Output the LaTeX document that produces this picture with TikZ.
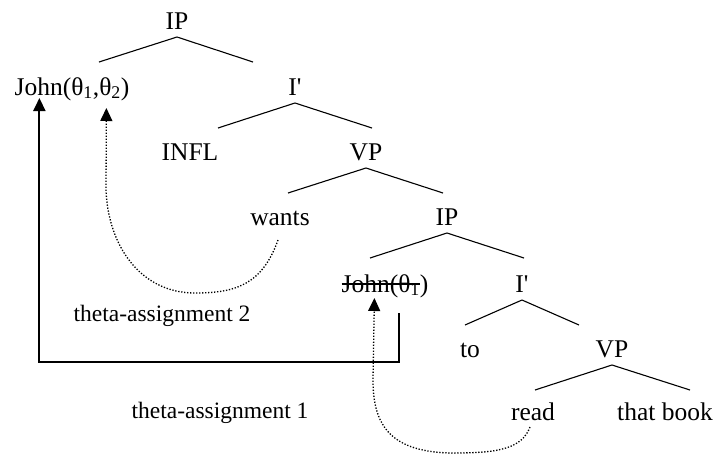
\documentclass[tikz,border=0pt]{standalone}
\usepackage{fontspec}
\setmainfont{Liberation Serif}
% same face without TeX ligatures, for a straight apostrophe
\newfontfamily\plainserif{Liberation Serif}
\usetikzlibrary{arrows.meta}
% strike a line through the boxed text
\newcommand\struck[1]{\setbox0\hbox{#1}\rlap{\rule[7.3pt]{\wd0}{1.4pt}}\box0}
% bar-level label
\newcommand\barlevel[1]{#1{\plainserif'}}
% the two branches hanging below a phrase label
\newcommand\branches[3]{%
  \draw[branch] ([yshift=-8pt]#1.base) -- ++(-#2,25)
                ([yshift=-8pt]#1.base) -- ++(#3,25);}
\begin{document}
\begin{tikzpicture}[x=1pt,y=-1pt,
  lbl/.style={anchor=base,inner sep=0pt,font=\fontsize{25.5}{30}\selectfont},
  note/.style={anchor=base,inner sep=0pt,font=\fontsize{23.5}{28}\selectfont},
  branch/.style={line width=1.1pt},
  move/.style={line width=2pt,-{Triangle[length=13pt,width=12pt]}},
  trace/.style={line width=1.3pt,dash pattern=on 1.3pt off 1.7pt,
                -{Triangle[length=13pt,width=12pt]}}]
\useasboundingbox (0,0) rectangle (718,456);

% tree labels
\node[lbl] (ip)    at (177,29)  {IP};
\node[lbl] (john)  at (72,95)   {John(θ\textsubscript{1},θ\textsubscript{2})};
\node[lbl] (ibar)  at (295,95)  {\barlevel{I}};
\node[lbl] (infl)  at (190,160) {INFL};
\node[lbl] (vp)    at (366,160) {VP};
\node[lbl] (wants) at (280,225) {wants};
\node[lbl] (ip2)   at (447,225) {IP};
\node[lbl] (john2) at (385,292) {\struck{John(θ\textsubscript{1}})};
\node[lbl] (ibar2) at (522,292) {\barlevel{I}};
\node[lbl] (to)    at (470,357) {to};
\node[lbl] (vp2)   at (612,357) {VP};
\node[lbl] (read)  at (533,420) {read};
\node[lbl] (book)  at (665,420) {that book};

% annotations
\node[note] (ta2) at (162,321) {theta-assignment 2};
\node[note] (ta1) at (220,418) {theta-assignment 1};

% branches
\branches{ip}{78}{76}
\branches{ibar}{77}{77}
\branches{vp}{78}{77}
\branches{ip2}{77}{77}
\branches{ibar2}{57}{57}
\branches{vp2}{77}{78}

% movement of the subject
\draw[move] ([xshift=14pt,yshift=-21pt]john2.base) -- ++(0,49)
  -| ([xshift=25pt,yshift=-3pt]john.base west);

% theta-role assignment by "wants"
\draw[trace] ([xshift=-2pt,yshift=-15pt]wants.base)
  .. controls (262,285) and (235,293) .. (195,293)
  .. controls (140,293) and (108,245) .. (106,190)
  -- ([xshift=92pt,yshift=-13pt]john.base west);

% theta-role assignment by "read"
\draw[trace] ([xshift=-3pt,yshift=-7pt]read.base)
  .. controls (522,448) and (500,453) .. (455,453)
  .. controls (390,453) and (373,425) .. (373,380)
  -- ([xshift=33pt,yshift=-6pt]john2.base west);
\end{tikzpicture}
\end{document}
